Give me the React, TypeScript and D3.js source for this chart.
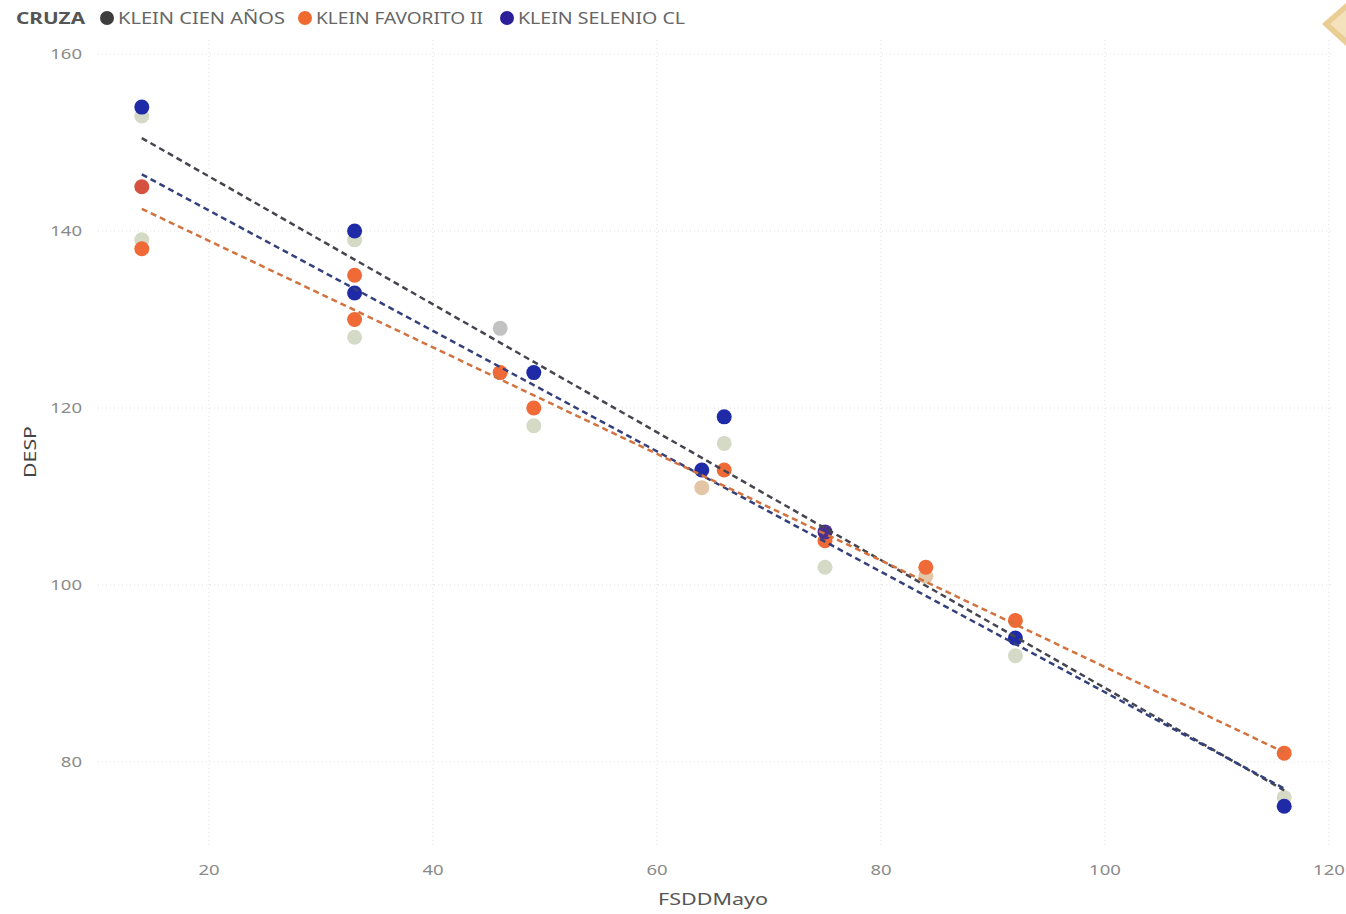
import React from "react";
import * as d3 from "d3";

const W = 1346;
const H = 914;

// Legend
const legendTitle = "CRUZA";
const seriesNames = ["KLEIN CIEN AÑOS", "KLEIN FAVORITO II", "KLEIN SELENIO CL"];

// Axis ticks
const xTicks = [20, 40, 60, 80, 100, 120];
const yTicks = [80, 100, 120, 140, 160];
const xTitle = "FSDDMayo";
const yTitle = "DESP";

// Points (FSDDMayo, DESP), grouped by how they appear
const fadedX = [14, 14, 33, 33, 49, 66, 75, 92, 116];
const fadedY = [153, 139, 139, 128, 118, 116, 102, 92, 76];
const grayX = [46];
const grayY = [129];
const tanX = [64, 84];
const tanY = [111, 101];
const redX = [14];
const redY = [145];
const orangeX = [14, 33, 33, 46, 49, 66, 75, 84, 92, 116];
const orangeY = [138, 135, 130, 124, 120, 113, 105, 102, 96, 81];
const purpleX = [75];
const purpleY = [106];
const blueX = [14, 33, 33, 49, 64, 66, 92, 116];
const blueY = [154, 140, 133, 124, 113, 119, 94, 75];

// Trend lines (value at FSDDMayo = 14 and 116)
const trendX = [14, 116];
const trendCienAnos = [150.5, 76.8];
const trendSelenio = [146.4, 77.0];
const trendFavorito = [142.5, 81.1];

const groupColors: Record<string, string> = {
  faded: "#d5dac6",
  gray: "#c2c2c2",
  tan: "#e3c6a6",
  red: "#d6513f",
  orange: "#f06a38",
  purple: "#4a3190",
  blue: "#1f2aa6",
};

const legendColors = ["#3d3d3d", "#f06a30", "#2c209a"];
const trendColors = ["#44454f", "#34407c", "#d2723f"];

export default function App() {
  const x = d3.scaleLinear().domain([20, 120]).range([209, 1329]);
  const y = d3.scaleLinear().domain([80, 160]).range([762, 54]);

  const groups: [string, number[], number[]][] = [
    ["faded", fadedX, fadedY],
    ["gray", grayX, grayY],
    ["tan", tanX, tanY],
    ["red", redX, redY],
    ["orange", orangeX, orangeY],
    ["purple", purpleX, purpleY],
    ["blue", blueX, blueY],
  ];

  const trends: number[][] = [trendCienAnos, trendSelenio, trendFavorito];
  const line = d3
    .line<[number, number]>()
    .x((d) => x(d[0]))
    .y((d) => y(d[1]));

  const font = "'Noto Sans', 'Open Sans', sans-serif";

  const legendItemsX = [107, 305, 507];
  const digitW = 10.6;

  return (
    <svg
      width={W}
      height={H}
      style={{ position: "absolute", left: 0, top: 0, background: "#fff" }}
      fontFamily={font}
    >
      <rect x={0} y={0} width={W} height={H} fill="#fff" />

      {/* gridlines */}
      {xTicks.map((t) => (
        <line
          key={"gx" + t}
          x1={x(t)}
          x2={x(t)}
          y1={40}
          y2={845}
          stroke="#dedede"
          strokeWidth={1}
          strokeDasharray="1 3"
        />
      ))}
      {yTicks.map((t) => (
        <line
          key={"gy" + t}
          x1={98}
          x2={1332}
          y1={y(t)}
          y2={y(t)}
          stroke="#dedede"
          strokeWidth={1}
          strokeDasharray="1 3"
        />
      ))}

      {/* tick labels */}
      {yTicks.map((t) => {
        const len = String(t).length * digitW;
        return (
          <text
            key={"ty" + t}
            x={82 - len}
            y={y(t)}
            dy="0.35em"
            fontSize={14}
            fill="#8a8a8a"
            textLength={len}
            lengthAdjust="spacingAndGlyphs"
          >
            {t}
          </text>
        );
      })}
      {xTicks.map((t) => {
        const len = String(t).length * digitW;
        return (
          <text
            key={"tx" + t}
            x={x(t) - len / 2}
            y={870}
            dy="0.35em"
            fontSize={14}
            fill="#8a8a8a"
            textLength={len}
            lengthAdjust="spacingAndGlyphs"
          >
            {t}
          </text>
        );
      })}

      {/* axis titles */}
      <text
        x={658}
        y={899}
        dy="0.35em"
        fontSize={17}
        fill="#555"
        textLength={110}
        lengthAdjust="spacingAndGlyphs"
      >
        {xTitle}
      </text>
      <text
        transform={`translate(30,478) rotate(-90)`}
        dy="0.35em"
        fontSize={17}
        fill="#444"
        textLength={52}
        lengthAdjust="spacingAndGlyphs"
      >
        {yTitle}
      </text>

      {/* points */}
      {groups.map(([g, xs, ys]) =>
        xs.map((xv, i) => (
          <circle
            key={g + i}
            cx={x(xv)}
            cy={y(ys[i])}
            r={7.5}
            fill={groupColors[g]}
          />
        ))
      )}

      {/* trend lines */}
      {trends.map((tv, i) => (
        <path
          key={"tr" + i}
          d={line(trendX.map((xv, j) => [xv, tv[j]] as [number, number])) || ""}
          fill="none"
          stroke={trendColors[i]}
          strokeWidth={2.5}
          strokeDasharray="6 4"
        />
      ))}

      {/* legend */}
      <text
        x={16}
        y={18}
        dy="0.35em"
        fontSize={16}
        fontWeight="bold"
        fill="#555"
        textLength={69}
        lengthAdjust="spacingAndGlyphs"
      >
        {legendTitle}
      </text>
      {seriesNames.map((s, i) => (
        <g key={s}>
          <circle cx={legendItemsX[i]} cy={18} r={7} fill={legendColors[i]} />
          <text
            x={legendItemsX[i] + 11}
            y={18}
            dy="0.35em"
            fontSize={16.5}
            fill="#666"
            textLength={167}
            lengthAdjust="spacingAndGlyphs"
          >
            {s}
          </text>
        </g>
      ))}

      {/* corner decoration */}
      <polygon points="1322,24 1346,3 1346,46" fill="#e9cd93" />
      <polygon points="1330,24 1346,10 1346,38" fill="#f3e2bb" />
    </svg>
  );
}
